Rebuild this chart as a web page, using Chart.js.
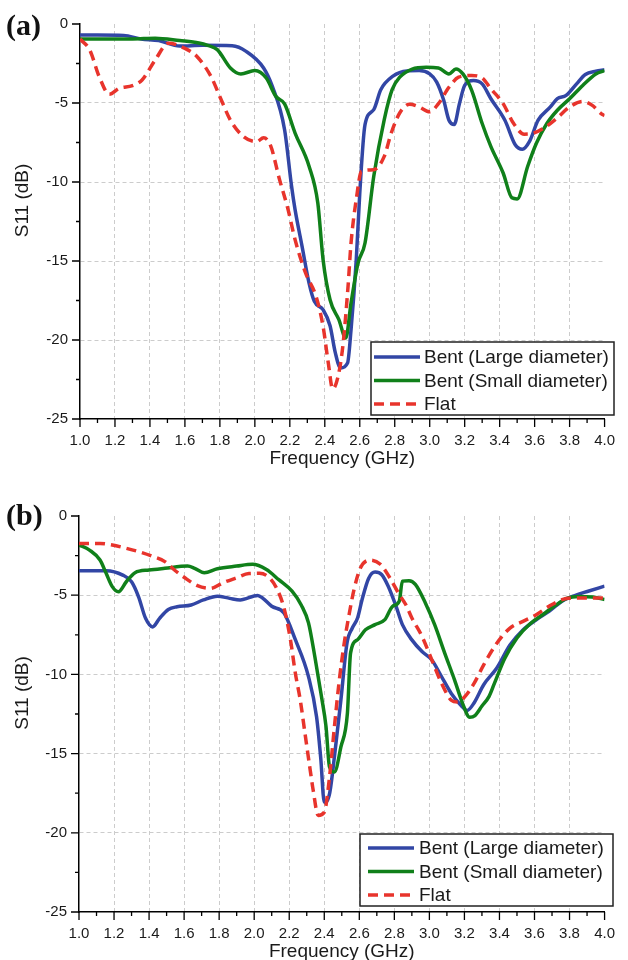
<!DOCTYPE html>
<html>
<head>
<meta charset="utf-8">
<script src="https://cdn.jsdelivr.net/npm/chart.js@4.4.0/dist/chart.umd.min.js"></script>
<style>
  body { margin: 0; background: #fff; overflow: hidden; }
  canvas { position: absolute; left: 0; }
  #chartA { top: 0; }
  #chartB { top: 492px; }
</style>
</head>
<body>
<canvas id="chartA" width="628" height="480"></canvas>
<canvas id="chartB" width="628" height="468"></canvas>
<script>
// axis ticks
const freqTicks = [1.0, 1.2, 1.4, 1.6, 1.8, 2.0, 2.2, 2.4, 2.6, 2.8, 3.0, 3.2, 3.4, 3.6, 3.8, 4.0];
const s11Ticks = [0, -5, -10, -15, -20, -25];
const seriesNames = ['Bent (Large diameter)', 'Bent (Small diameter)', 'Flat'];

// (a)
const aLargeFreq = [1.00, 1.10, 1.25, 1.35, 1.45, 1.57, 1.70, 1.87, 1.95, 2.05, 2.10, 2.17, 2.21, 2.23, 2.27, 2.31, 2.34, 2.39, 2.43, 2.46, 2.49, 2.53, 2.55, 2.58, 2.60, 2.63, 2.68, 2.72, 2.79, 2.87, 2.94, 3.00, 3.04, 3.08, 3.11, 3.14, 3.17, 3.20, 3.25, 3.30, 3.35, 3.43, 3.49, 3.53, 3.57, 3.62, 3.69, 3.73, 3.78, 3.84, 3.89, 3.95, 4.00];
const aLargeS11 = [-0.70, -0.70, -0.72, -0.95, -1.05, -1.40, -1.35, -1.38, -1.73, -2.78, -3.95, -6.69, -10.27, -11.75, -14.07, -16.4, -17.55, -18.08, -19.1, -20.8, -21.77, -21.46, -19.35, -14.9, -10.7, -6.37, -5.42, -4.16, -3.3, -2.97, -2.95, -3.16, -3.68, -4.83, -6.09, -6.36, -5.04, -3.89, -3.58, -3.79, -4.73, -6.09, -7.66, -7.93, -7.45, -6.09, -5.25, -4.73, -4.52, -3.79, -3.2, -2.99, -2.9];

const aSmallFreq = [1.00, 1.30, 1.43, 1.57, 1.68, 1.73, 1.785, 1.86, 1.92, 2.00, 2.065, 2.12, 2.17, 2.23, 2.31, 2.36, 2.39, 2.43, 2.48, 2.52, 2.55, 2.59, 2.63, 2.68, 2.74, 2.785, 2.83, 2.90, 2.98, 3.05, 3.11, 3.15, 3.19, 3.24, 3.30, 3.35, 3.42, 3.47, 3.50, 3.56, 3.61, 3.67, 3.73, 3.80, 3.875, 3.95, 4.00];
const aSmallS11 = [-0.95, -0.95, -0.90, -1.05, -1.20, -1.35, -1.62, -2.78, -3.16, -2.95, -3.42, -4.58, -5.06, -6.9, -9.0, -11.33, -14.9, -17.45, -18.7, -19.87, -17.66, -15.13, -13.86, -9.64, -6.05, -4.16, -3.35, -2.85, -2.74, -2.78, -3.16, -2.85, -3.16, -4.2, -6.3, -7.76, -9.43, -11.0, -11.07, -9.02, -7.55, -6.3, -5.46, -4.73, -3.89, -3.16, -2.95];

const aFlatFreq = [1.00, 1.056, 1.11, 1.168, 1.224, 1.30, 1.355, 1.43, 1.505, 1.60, 1.67, 1.75, 1.80, 1.86, 1.935, 2.01, 2.05, 2.09, 2.14, 2.19, 2.23, 2.29, 2.35, 2.39, 2.42, 2.445, 2.48, 2.505, 2.533, 2.55, 2.58, 2.61, 2.68, 2.74, 2.78, 2.83, 2.885, 2.94, 3.00, 3.05, 3.11, 3.165, 3.24, 3.30, 3.35, 3.42, 3.48, 3.54, 3.59, 3.65, 3.725, 3.80, 3.875, 3.93, 3.98, 4.00];
const aFlatS11 = [-0.95, -1.65, -3.34, -4.45, -4.07, -3.9, -3.54, -2.28, -1.22, -1.54, -2.07, -3.34, -4.6, -6.08, -7.13, -7.45, -7.2, -7.7, -9.8, -11.75, -13.65, -15.76, -17.24, -19.13, -21.46, -23.1, -22.1, -20.2, -16.6, -13.86, -11.1, -9.32, -9.22, -8.38, -6.9, -5.6, -5.08, -5.25, -5.56, -5.04, -4.0, -3.37, -3.26, -3.41, -4.1, -5.04, -6.3, -6.97, -6.92, -6.61, -5.98, -5.25, -4.9, -5.15, -5.67, -5.8];

// (b)
const bLargeFreq = [1.00, 1.155, 1.25, 1.30, 1.34, 1.38, 1.42, 1.46, 1.51, 1.56, 1.64, 1.71, 1.79, 1.86, 1.92, 2.02, 2.05, 2.10, 2.17, 2.235, 2.31, 2.356, 2.38, 2.40, 2.43, 2.458, 2.495, 2.53, 2.56, 2.59, 2.616, 2.653, 2.69, 2.727, 2.765, 2.81, 2.846, 2.90, 2.958, 3.014, 3.07, 3.125, 3.18, 3.215, 3.255, 3.31, 3.385, 3.46, 3.534, 3.61, 3.683, 3.757, 3.83, 3.906, 4.00];
const bLargeS11 = [-3.45, -3.45, -3.73, -4.15, -5.1, -6.46, -7.0, -6.46, -5.9, -5.73, -5.62, -5.3, -5.06, -5.2, -5.3, -5.02, -5.2, -5.7, -6.12, -7.81, -10.14, -12.67, -15.3, -18.07, -17.54, -15.2, -11.6, -8.0, -7.07, -6.44, -5.27, -3.94, -3.54, -3.69, -4.43, -5.7, -6.86, -7.82, -8.56, -9.09, -10.15, -11.2, -11.95, -12.28, -11.8, -10.65, -9.6, -8.15, -7.2, -6.55, -6.02, -5.38, -5.02, -4.75, -4.43];

const bSmallFreq = [1.00, 1.06, 1.12, 1.155, 1.19, 1.225, 1.27, 1.32, 1.40, 1.49, 1.62, 1.66, 1.715, 1.79, 1.90, 1.99, 2.07, 2.14, 2.216, 2.27, 2.31, 2.346, 2.384, 2.41, 2.43, 2.458, 2.495, 2.532, 2.55, 2.59, 2.635, 2.69, 2.746, 2.79, 2.828, 2.846, 2.884, 2.92, 2.977, 3.03, 3.088, 3.144, 3.19, 3.23, 3.26, 3.30, 3.34, 3.37, 3.43, 3.50, 3.575, 3.65, 3.725, 3.78, 3.855, 3.93, 4.00];
const bSmallS11 = [-1.83, -2.15, -2.78, -3.62, -4.46, -4.78, -4.15, -3.58, -3.41, -3.3, -3.16, -3.3, -3.58, -3.33, -3.16, -3.05, -3.38, -4.02, -4.75, -5.65, -6.75, -8.87, -11.4, -13.3, -15.85, -16.16, -14.58, -12.46, -8.66, -7.81, -7.18, -6.86, -6.54, -5.7, -5.38, -4.11, -4.08, -4.32, -5.49, -6.86, -8.67, -10.36, -11.84, -12.7, -12.6, -12.0, -11.4, -10.6, -9.0, -7.7, -6.8, -6.2, -5.6, -5.22, -5.08, -5.12, -5.27];

const bFlatFreq = [1.00, 1.12, 1.19, 1.27, 1.34, 1.415, 1.49, 1.545, 1.60, 1.676, 1.75, 1.825, 1.90, 1.97, 2.03, 2.085, 2.125, 2.17, 2.207, 2.235, 2.263, 2.29, 2.32, 2.337, 2.365, 2.40, 2.43, 2.458, 2.486, 2.514, 2.54, 2.57, 2.607, 2.662, 2.72, 2.774, 2.828, 2.865, 2.90, 2.958, 3.014, 3.07, 3.125, 3.16, 3.21, 3.255, 3.31, 3.385, 3.46, 3.534, 3.61, 3.683, 3.757, 3.83, 3.906, 4.00];
const bFlatS11 = [-1.73, -1.73, -1.83, -2.04, -2.25, -2.53, -2.88, -3.41, -3.87, -4.4, -4.57, -4.2, -3.9, -3.63, -3.62, -3.88, -4.5, -5.8, -7.81, -9.93, -11.62, -13.73, -16.06, -17.33, -18.9, -18.7, -16.48, -13.3, -10.35, -8.02, -6.33, -4.64, -3.27, -2.78, -3.05, -3.9, -4.96, -5.59, -6.44, -7.6, -9.09, -10.57, -11.63, -11.75, -11.31, -10.57, -9.4, -8.03, -7.08, -6.65, -6.23, -5.7, -5.28, -5.17, -5.17, -5.17];

const BLUE = 'rgb(50,70,165)';
const GREEN = 'rgb(16,128,26)';
const RED = 'rgb(232,52,44)';
const INK = '#1a1a1a';
const FONT = '"Liberation Sans", Arial, sans-serif';

function pts(freq, s11) {
  return freq.map((f, i) => ({ x: f, y: s11[i] }));
}

// minor ticks, axis titles, panel letter and boxed legend
const panelDecor = {
  id: 'panelDecor',
  afterDraw(chart, args, opts) {
    const ctx = chart.ctx;
    const xs = chart.scales.x, ys = chart.scales.y;
    const area = chart.chartArea;
    ctx.save();
    ctx.strokeStyle = '#000';
    ctx.lineWidth = 1.3;
    ctx.beginPath();
    for (let i = 0; i <= 30; i++) {
      const px = xs.getPixelForValue(1 + i * 0.1);
      ctx.moveTo(px, area.bottom);
      ctx.lineTo(px, area.bottom + (i % 2 === 0 ? 8 : 4));
    }
    for (let i = 0; i <= 10; i++) {
      const py = ys.getPixelForValue(-2.5 * i);
      ctx.moveTo(area.left, py);
      ctx.lineTo(area.left - (i % 2 === 0 ? 8 : 4), py);
    }
    ctx.stroke();

    // axis titles
    ctx.fillStyle = INK;
    ctx.font = '19px ' + FONT;
    ctx.textAlign = 'center';
    ctx.textBaseline = 'middle';
    ctx.fillText('Frequency (GHz)', (area.left + area.right) / 2, area.bottom + 40);
    ctx.save();
    ctx.translate(23, (area.top + area.bottom) / 2 - 21);
    ctx.rotate(-Math.PI / 2);
    ctx.fillText('S11 (dB)', 0, 0);
    ctx.restore();

    // panel letter
    ctx.font = 'bold 30px "Liberation Serif", "Times New Roman", serif';
    ctx.textAlign = 'left';
    ctx.textBaseline = 'alphabetic';
    ctx.fillStyle = '#111';
    ctx.fillText(opts.letter, 6, opts.letterY);

    // legend
    const lg = opts.legend;
    ctx.fillStyle = '#fff';
    ctx.fillRect(lg.x, lg.y, lg.w, lg.h);
    ctx.strokeStyle = '#222';
    ctx.lineWidth = 1.5;
    ctx.strokeRect(lg.x, lg.y, lg.w, lg.h);
    ctx.font = '19px ' + FONT;
    ctx.textBaseline = 'middle';
    chart.data.datasets.forEach((ds, i) => {
      const ry = lg.y + lg.rowTop + i * lg.rowGap;
      ctx.strokeStyle = ds.borderColor;
      ctx.lineWidth = ds.borderWidth;
      ctx.setLineDash(ds.borderDash || []);
      ctx.beginPath();
      ctx.moveTo(lg.x + lg.lineStart, ry);
      ctx.lineTo(lg.x + lg.lineStart + 46, ry);
      ctx.stroke();
      ctx.setLineDash([]);
      ctx.fillStyle = INK;
      ctx.fillText(ds.label, lg.x + lg.textStart, ry + 1);
    });
    ctx.restore();
  }
};

function makeChart(id, large, small, flat, yWidth, xHeight, padRight, decor) {
  return new Chart(document.getElementById(id), {
    type: 'line',
    data: {
      datasets: [
        { label: seriesNames[0], data: large, borderColor: BLUE, borderWidth: 3.5, order: 3 },
        { label: seriesNames[1], data: small, borderColor: GREEN, borderWidth: 3.5, order: 2 },
        { label: seriesNames[2], data: flat, borderColor: RED, borderWidth: 3.5, borderDash: [10, 6], order: 1 }
      ]
    },
    options: {
      responsive: false,
      animation: false,
      devicePixelRatio: 1,
      layout: { padding: { top: 24, right: padRight, left: 0, bottom: 0 } },
      elements: {
        point: { radius: 0 },
        line: { cubicInterpolationMode: 'monotone', fill: false }
      },
      scales: {
        x: {
          type: 'linear',
          min: 1, max: 4,
          afterBuildTicks: (s) => { s.ticks = freqTicks.map(v => ({ value: v })); },
          afterFit: (s) => { s.height = xHeight; },
          ticks: {
            padding: 13,
            color: INK,
            maxRotation: 0,
            font: { family: FONT, size: 15 },
            callback: (v) => Number(v).toFixed(1)
          },
          grid: {
            drawTicks: false,
            lineWidth: 1,
            borderDash: [4, 3],
            color: (c) => (c.tick && (c.tick.value === 1 || c.tick.value === 4)) ? 'rgba(0,0,0,0)' : '#cccccc'
          },
          border: { display: true, color: '#000', width: 1.5, dash: [4, 3] }
        },
        y: {
          min: -25, max: 0,
          afterBuildTicks: (s) => { s.ticks = s11Ticks.map(v => ({ value: v })); },
          afterFit: (s) => { s.width = yWidth; },
          ticks: {
            padding: 12,
            color: INK,
            font: { family: FONT, size: 15 }
          },
          grid: {
            drawTicks: false,
            lineWidth: 1,
            borderDash: [4, 3],
            color: (c) => (c.tick && (c.tick.value === 0 || c.tick.value === -25)) ? 'rgba(0,0,0,0)' : '#cccccc'
          },
          border: { display: true, color: '#000', width: 1.5, dash: [4, 3] }
        }
      },
      plugins: {
        legend: { display: false },
        tooltip: { enabled: false },
        panelDecor: decor
      }
    },
    plugins: [panelDecor]
  });
}

makeChart('chartA',
  pts(aLargeFreq, aLargeS11), pts(aSmallFreq, aSmallS11), pts(aFlatFreq, aFlatS11),
  80, 61, 13,
  { letter: '(a)', letterY: 35, legend: { x: 371, y: 342, w: 243, h: 73, rowTop: 15, rowGap: 23.5, lineStart: 3, textStart: 53 } });

makeChart('chartB',
  pts(bLargeFreq, bLargeS11), pts(bSmallFreq, bSmallS11), pts(bFlatFreq, bFlatS11),
  79, 48, 12,
  { letter: '(b)', letterY: 33, legend: { x: 360, y: 342, w: 253, h: 72, rowTop: 14, rowGap: 23.5, lineStart: 8, textStart: 59 } });
</script>
</body>
</html>
